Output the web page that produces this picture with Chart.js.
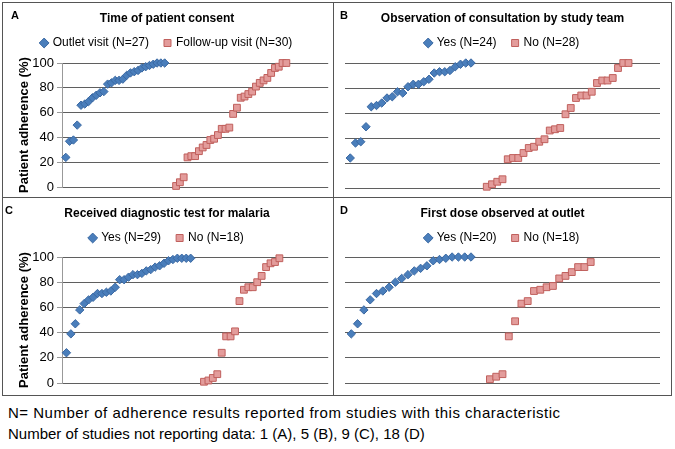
<!DOCTYPE html>
<html>
<head>
<meta charset="utf-8">
<script src="https://cdn.jsdelivr.net/npm/chart.js@4.4.0/dist/chart.umd.min.js"></script>
<style>
  body { margin: 0; background: #fff; width: 675px; height: 449px; position: relative; overflow: hidden;
         font-family: Arial, "Liberation Sans", sans-serif; }
  canvas { position: absolute; }
  .line { position: absolute; background: #555; }
  .lbl { position: absolute; font-weight: bold; font-size: 11px; color: #000; }
  .note { position: absolute; left: 8px; top: 402px; font-size: 15px; line-height: 21px; color: #000; }
</style>
</head>
<body>
<!-- panel frame -->
<div class="line" style="left:2px;top:2px;width:670px;height:1px"></div>
<div class="line" style="left:2px;top:395px;width:670px;height:1px"></div>
<div class="line" style="left:2px;top:2px;width:1px;height:394px"></div>
<div class="line" style="left:671px;top:2px;width:1px;height:394px"></div>
<div class="line" style="left:333px;top:2px;width:1px;height:394px"></div>
<div class="line" style="left:2px;top:197px;width:670px;height:1px"></div>

<canvas id="chartA" width="331" height="195" style="left:3px;top:3px"></canvas>
<canvas id="chartB" width="337" height="195" style="left:334px;top:3px"></canvas>
<canvas id="chartC" width="331" height="197" style="left:3px;top:198px"></canvas>
<canvas id="chartD" width="337" height="197" style="left:334px;top:198px"></canvas>

<div class="lbl" style="left:11px;top:9px">A</div>
<div class="lbl" style="left:340px;top:9px">B</div>
<div class="lbl" style="left:5px;top:204px">C</div>
<div class="lbl" style="left:340px;top:204px">D</div>

<div class="note"><span style="letter-spacing:0.5px">N= Number of adherence results reported from studies with this characteristic</span><br>Number of studies not reporting data: 1 (A), 5 (B), 9 (C), 18 (D)</div>

<script>
// values, sorted ascending per group (patient adherence, %)
var aOutlet = [24, 37, 38, 50, 66, 67, 69, 72, 74, 76, 77, 83, 84, 86, 86, 87, 90, 92, 93, 94, 96, 97, 98, 99, 100, 100, 100];
var aFollow = [1, 4, 8, 24, 25, 25, 29, 32, 34, 38, 39, 42, 47, 47, 48, 59, 64, 72, 73, 75, 77, 81, 84, 86, 88, 92, 96, 97, 100, 100];
var bYes = [24, 36, 37, 49, 65, 66, 68, 72, 73, 77, 76, 81, 83, 83, 85, 87, 92, 93, 93, 94, 97, 99, 100, 100];
var bNo = [1, 3, 5, 7, 23, 24, 24, 28, 32, 33, 37, 39, 46, 47, 48, 59, 64, 72, 74, 74, 77, 84, 86, 86, 88, 96, 100, 100];
var cYes = [24, 39, 47, 58, 63, 66, 68, 71, 71, 72, 73, 76, 82, 82, 84, 86, 86, 87, 89, 90, 92, 93, 95, 97, 98, 99, 99, 99, 99];
var cNo = [1, 2, 4, 7, 24, 37, 37, 41, 65, 74, 76, 76, 80, 85, 92, 95, 96, 99];
var dYes = [39, 47, 58, 66, 71, 73, 76, 80, 83, 86, 89, 91, 93, 97, 98, 99, 100, 100, 100, 100];
var dNo = [3, 5, 7, 37, 49, 63, 65, 73, 74, 76, 77, 83, 85, 88, 92, 92, 96];

var titles = ['Time of patient consent', 'Observation of consultation by study team',
              'Received diagnostic test for malaria', 'First dose observed at outlet'];
var namesA = ['Outlet visit (N=27)', 'Follow-up visit (N=30)'];
var namesB = ['Yes (N=24)', 'No (N=28)'];
var namesC = ['Yes (N=29)', 'No (N=18)'];
var namesD = ['Yes (N=20)', 'No (N=18)'];
var yTicks = [0, 20, 40, 60, 80, 100];

var FONT = 'Arial, "Liberation Sans", sans-serif';

// x position = rank within group; second group starts after a gap of two slots
function toPoints(values, start) {
    return values.map(function (v, i) { return {x: start + i, y: v}; });
}

// extra room under the legend
function legendGap(extra) {
    return {
        id: 'legendGap',
        beforeInit: function (chart) {
            var fit = chart.legend.fit;
            chart.legend.fit = function () {
                fit.bind(chart.legend)();
                this.height += extra;
            };
        }
    };
}

function makeChart(id, title, names, first, second, xMax, showAxis, pad, extra) {
    var ctx = document.getElementById(id).getContext('2d');
    return new Chart(ctx, {
        type: 'scatter',
        data: {
            datasets: [{
                label: names[0],
                data: toPoints(first, 1),
                pointStyle: 'rectRot',
                pointRadius: 4.2,
                backgroundColor: '#4A7EBB',
                borderColor: '#3A68A2',
                borderWidth: 1,
                clip: false
            }, {
                label: names[1],
                data: toPoints(second, first.length + 3),
                pointStyle: 'rect',
                pointRadius: 4.8,
                backgroundColor: '#E39C9B',
                borderColor: '#C0605D',
                borderWidth: 1,
                clip: false
            }]
        },
        options: {
            responsive: false,
            animation: false,
            events: [],
            layout: {padding: pad},
            plugins: {
                title: {
                    display: true,
                    text: title,
                    color: '#000',
                    font: {family: FONT, size: 12, weight: 'bold'},
                    padding: {top: 8, bottom: -4.4}
                },
                legend: {
                    labels: {
                        usePointStyle: true,
                        boxWidth: 5,
                        boxHeight: 7,
                        padding: 16,
                        color: '#000',
                        font: {family: FONT, size: 12}
                    }
                },
                tooltip: {enabled: false}
            },
            scales: {
                x: {type: 'linear', display: false, min: 0, max: xMax},
                y: {
                    min: 0,
                    max: 100,
                    afterBuildTicks: function (scale) {
                        scale.ticks = yTicks.map(function (v) { return {value: v}; });
                    },
                    ticks: {display: showAxis, color: '#000', font: {family: FONT, size: 13}, padding: 3},
                    grid: {color: '#5f5f5f', drawTicks: showAxis, tickLength: 5, tickColor: '#999'},
                    border: {display: showAxis, color: '#999'},
                    title: {
                        display: showAxis,
                        text: 'Patient adherence (%)',
                        color: '#000',
                        font: {family: FONT, size: 13, weight: 'bold'},
                        padding: {top: 12, bottom: 0}
                    },
                    afterFit: function (scale) { scale.width = showAxis ? 57 : 0; }
                }
            }
        },
        plugins: [legendGap(extra)]
    });
}

makeChart('chartA', titles[0], namesA, aOutlet, aFollow, 70, true, {left: 2, right: 5, top: 0, bottom: 10}, 4);
makeChart('chartB', titles[1], namesB, bYes, bNo, 60, false, {left: 11, right: 11, top: 0, bottom: 10}, 4);
makeChart('chartC', titles[2], namesC, cYes, cNo, 60, true, {left: 2, right: 5, top: 0, bottom: 12}, 3);
makeChart('chartD', titles[3], namesD, dYes, dNo, 50, false, {left: 11, right: 11, top: 0, bottom: 12}, 3);
</script>
</body>
</html>
